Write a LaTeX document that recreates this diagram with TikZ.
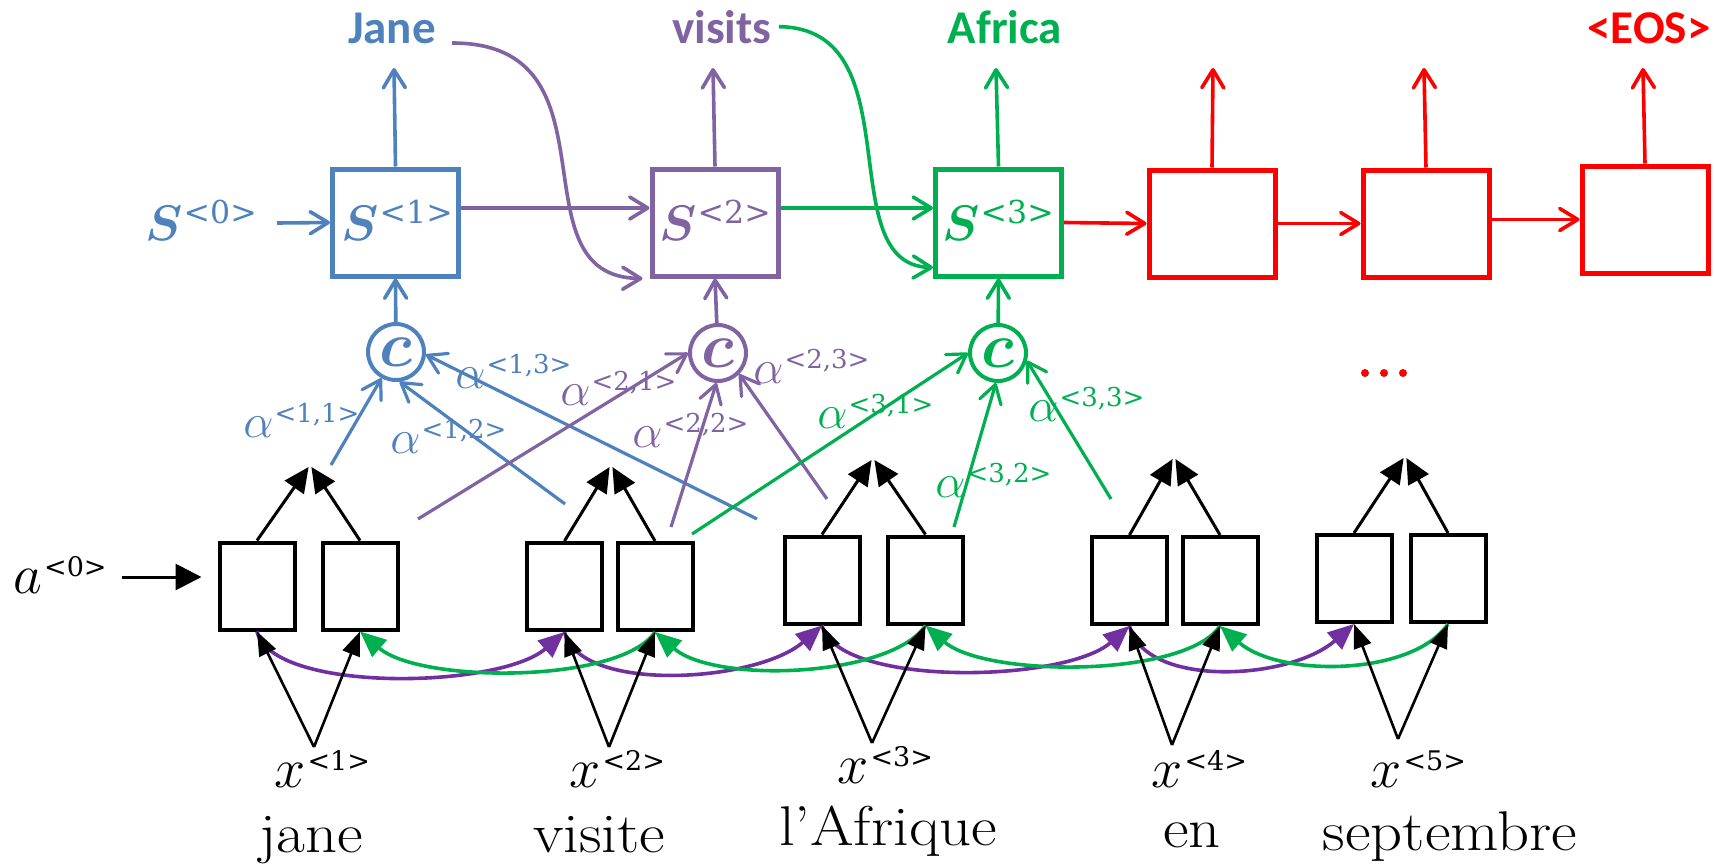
\RequirePackage{fix-cm}
\documentclass[tikz,border=0pt]{standalone}
\usepackage{bm}
\usepackage{graphicx}
\usepackage{fontspec}
\newfontfamily\calibri{Carlito}
\newfontfamily\supfont{DejaVu Serif}
\usetikzlibrary{arrows.meta,calc}
\DeclareMathSizes{24}{24}{14}{10}
\DeclareMathSizes{25}{25}{16}{12}
\DeclareMathSizes{28}{28}{18}{14}
\DeclareMathSizes{32}{32}{20}{14}
\definecolor{cblue}{HTML}{4F81BD}
\definecolor{cpurp}{HTML}{8064A2}
\definecolor{cgreen}{HTML}{00B050}
\definecolor{cred}{HTML}{FF0000}
\definecolor{dpurp}{HTML}{7030A0}
\tikzset{
  cellbox/.style={draw, line width=2.5pt, minimum width=63pt, minimum height=53.5pt, inner sep=0pt},
  encbox/.style={draw=black, line width=2pt, minimum width=37.5pt, minimum height=43.5pt, inner sep=0pt},
  ctxnode/.style={circle, draw, line width=2pt, minimum size=28pt, inner sep=0pt, font=\fontsize{32}{34}\selectfont},
  openarr/.style={line width=1.8pt, -{Straight Barb[length=9pt,width=11pt,round]}},
  attarr/.style={line width=1.6pt, -{Straight Barb[length=9pt,width=11pt,round]}},
  mergearr/.style={line width=1.5pt, -{Triangle[length=12.5pt,width=11.5pt]}},
  inarr/.style={line width=1.3pt, -{Triangle[length=12pt,width=9pt]}},
  initarr/.style={line width=1.5pt, -{Triangle[length=13pt,width=13pt]}},
  recarr/.style={line width=1.8pt, -{Triangle[length=13pt,width=11pt]}},
  outword/.style={inner sep=0pt, anchor=base, font=\calibri\bfseries\fontsize{23.5}{26}\selectfont},
  statelab/.style={inner sep=0pt, anchor=base west, font=\fontsize{25}{27}\selectfont},
  attlab/.style={inner sep=0pt, anchor=base west, font=\fontsize{24}{26}\selectfont},
  inlab/.style={inner sep=0pt, anchor=base west, font=\fontsize{28}{30}\selectfont},
  frword/.style={inner sep=0pt, anchor=base, font=\fontsize{28}{30}\selectfont},
  reddot/.style={circle, fill=cred, inner sep=0pt, minimum size=4pt},
}
% raised upright index such as <1,2>
\newcommand{\hi}[3]{\raisebox{#1}{\supfont\fontsize{#2}{#2}\selectfont #3}}
\newcommand{\st}[1]{$\bm{S}$\kern0.5pt\hi{8.5pt}{15.8}{#1}}
\newcommand{\att}[1]{$\alpha$\kern0.5pt\hi{7.5pt}{13}{#1}}
\newcommand{\inp}[2]{$#1$\kern1pt\hi{8.5pt}{13.5}{#2}}
\newcommand{\wide}[1]{\scalebox{1.12}[1]{#1}}
\begin{document}
\begin{tikzpicture}[x=0.5pt,y=-0.5pt]
\useasboundingbox (0,0) rectangle (1715,863);

% ---------- decoder cells ----------
\node[cellbox, draw=cblue]  (s1) at (395.5,222.5) {};
\node[cellbox, draw=cpurp]  (s2) at (715,222.5) {};
\node[cellbox, draw=cgreen] (s3) at (998.5,222.5) {};
\node[cellbox, draw=cred]   (r1) at (1212,223.5) {};
\node[cellbox, draw=cred]   (r2) at (1426,223.5) {};
\node[cellbox, draw=cred]   (r3) at (1645,219.5) {};

\node[statelab, text=cblue]  (s0lab) at (145,240) {\st{<0>}};
\node[statelab, text=cblue]  (s1lab) at (341,240) {\st{<1>}};
\node[statelab, text=cpurp]  (s2lab) at (659,240) {\st{<2>}};
\node[statelab, text=cgreen] (s3lab) at (942,240) {\st{<3>}};

% ---------- output words ----------
\node[outword, text=cblue]  (jane)   at (392,43)  {Jane};
\node[outword, text=cpurp]  (visits) at (722,43)  {visits};
\node[outword, text=cgreen] (africa) at (1005,43) {Africa};
\node[outword, text=cred]   (eos)    at (1649,43) {<EOS>};

\coordinate (o1) at (394,68);
\coordinate (o2) at (713,68);
\coordinate (o3) at (996,68);
\coordinate (o4) at (1213,68);
\coordinate (o5) at (1424,68);
\coordinate (o6) at (1643,68);
\draw[openarr, cblue]  (s1.north) -- (o1);
\draw[openarr, cpurp]  (s2.north) -- (o2);
\draw[openarr, cgreen] (s3.north) -- (o3);
\draw[openarr, cred]   (r1.north) -- (o4);
\draw[openarr, cred]   (r2.north) -- (o5);
\draw[openarr, cred]   (r3.north) -- (o6);

% ---------- recurrence between decoder cells ----------
\coordinate (s0out) at (277,223);
\draw[openarr, cblue]  (s0out) -- (s1.west);
\draw[openarr, cpurp]  ([yshift=7.25pt]s1.east) -- ([yshift=7.25pt]s2.west);
\draw[openarr, cgreen] ([yshift=7.25pt]s2.east) -- ([yshift=7.25pt]s3.west);
\draw[openarr, cred]   (s3.east) -- (r1.west);
\draw[openarr, cred]   (r1.east) -- (r2.west);
\draw[openarr, cred]   (r2.east |- r3.west) -- (r3.west);

% previous output fed back into the next cell
\draw[openarr, cpurp]  ([xshift=8pt]jane.base east) .. controls (625,43) and (510,277) .. ([xshift=-3.5pt]s2.south west);
\draw[openarr, cgreen] ([xshift=3.5pt]visits.east) .. controls (915,28) and (829,265) .. ([yshift=5.5pt]s3.south west);

% ---------- context vectors ----------
\node[ctxnode, draw=cblue,  text=cblue]  (c1) at (396,352) {$\bm{c}$};
\node[ctxnode, draw=cpurp,  text=cpurp]  (c2) at (718,353) {$\bm{c}$};
\node[ctxnode, draw=cgreen, text=cgreen] (c3) at (998,353) {$\bm{c}$};
\draw[openarr, cblue]  (c1) -- (s1.south);
\draw[openarr, cpurp]  (c2) -- (s2.south);
\draw[openarr, cgreen] (c3) -- (s3.south);

% ---------- attention weights ----------
\coordinate (t11) at (331,465);
\coordinate (t12) at (565,504);
\coordinate (t13) at (757,519);
\coordinate (t21) at (418,519);
\coordinate (t22) at (671,527);
\coordinate (t23) at (827,499);
\coordinate (t31) at (692,534);
\coordinate (t32) at (954,527);
\coordinate (t33) at (1111,499);
\draw[attarr, cblue]  (t11) -- (c1.-119);
\draw[attarr, cblue]  (t12) -- (c1.-83);
\draw[attarr, cblue]  (t13) -- (c1.-5);
\draw[attarr, cpurp]  (t21) -- (c2.180);
\draw[attarr, cpurp]  (t22) -- (c2.-93);
\draw[attarr, cpurp]  (t23) -- (c2.-45);
\draw[attarr, cgreen] (t31) -- (c3.180);
\draw[attarr, cgreen] (t32) -- (c3.-94);
\draw[attarr, cgreen] (t33) -- (c3.-15);

\node[attlab, text=cblue]  (al11) at (243,437) {\att{<1,1>}};
\node[attlab, text=cblue]  (al12) at (390,453) {\att{<1,2>}};
\node[attlab, text=cblue]  (al13) at (455,388) {\att{<1,3>}};
\node[attlab, text=cpurp]  (al21) at (560,405) {\att{<2,1>}};
\node[attlab, text=cpurp]  (al22) at (632,447) {\att{<2,2>}};
\node[attlab, text=cpurp]  (al23) at (753,383) {\att{<2,3>}};
\node[attlab, text=cgreen] (al31) at (817,428) {\att{<3,1>}};
\node[attlab, text=cgreen] (al32) at (935,497) {\att{<3,2>}};
\node[attlab, text=cgreen] (al33) at (1028,421) {\att{<3,3>}};

\node[reddot] (d1) at (1365,373) {};
\node[reddot] (d2) at (1384,373) {};
\node[reddot] (d3) at (1403,373) {};

% ---------- bidirectional encoder ----------
\node[encbox] (a1) at (257,586) {};
\node[encbox] (b1) at (360,586) {};
\node[encbox] (a2) at (564.5,586.5) {};
\node[encbox] (b2) at (655,586.5) {};
\node[encbox] (a3) at (822,580) {};
\node[encbox] (b3) at (925.5,580) {};
\node[encbox] (a4) at (1129.5,580.5) {};
\node[encbox] (b4) at (1220,580.5) {};
\node[encbox] (a5) at (1354,578.5) {};
\node[encbox] (b5) at (1448,578.5) {};

% forward and backward recurrences
\foreach \p/\q in {a1/a2,a2/a3,a3/a4,a4/a5}
  \draw[recarr, dpurp] (\p.south) .. controls ($(\p.south)+(15,62)$) and ($(\q.south)+(-65,57)$) .. (\q.south);
\foreach \p/\q in {b2/b1,b3/b2,b4/b3,b5/b4}
  \draw[recarr, cgreen] (\p.south) .. controls ($(\p.south)+(-35,52)$) and ($(\q.south)+(60,52)$) .. (\q.south);

% merged activations
\coordinate (m1) at (310,467);
\coordinate (m2) at (611,467);
\coordinate (m3) at (873,460);
\coordinate (m4) at (1174,459);
\coordinate (m5) at (1405,458);
\foreach \i in {1,...,5} {
  \draw[mergearr] (a\i.north) -- ([xshift=-0.7pt]m\i);
  \draw[mergearr] (b\i.north) -- ([xshift=0.7pt]m\i);
}

% inputs
\coordinate (i1) at (314,747);
\coordinate (i2) at (609,747);
\coordinate (i3) at (872,743);
\coordinate (i4) at (1172,745);
\coordinate (i5) at (1398,739);
\foreach \i in {1,...,5} {
  \draw[inarr] (i\i) -- (a\i.south);
  \draw[inarr] (i\i) -- (b\i.south);
}

\node[inlab] (x1) at (274,787)  {\inp{x}{<1>}};
\node[inlab] (x2) at (569,787)  {\inp{x}{<2>}};
\node[inlab] (x3) at (837,783)  {\inp{x}{<3>}};
\node[inlab] (x4) at (1151,787) {\inp{x}{<4>}};
\node[inlab] (x5) at (1370,787) {\inp{x}{<5>}};

\node[frword] (w1) at (311,852)  {\wide{jane}};
\node[frword] (w2) at (599,852)  {\wide{visite}};
\node[frword] (w3) at (888,845)  {\wide{l’Afrique}};
\node[frword] (w4) at (1192,847) {\wide{en}};
\node[frword] (w5) at (1450,850) {\wide{septembre}};

% initial encoder activation
\node[inlab] (a0lab) at (13,593) {\inp{a}{<0>}};
\coordinate (a0out) at (122,577);
\draw[initarr] (a0out) -- ([xshift=-8pt,yshift=4.5pt]a1.west);
\end{tikzpicture}
\end{document}
